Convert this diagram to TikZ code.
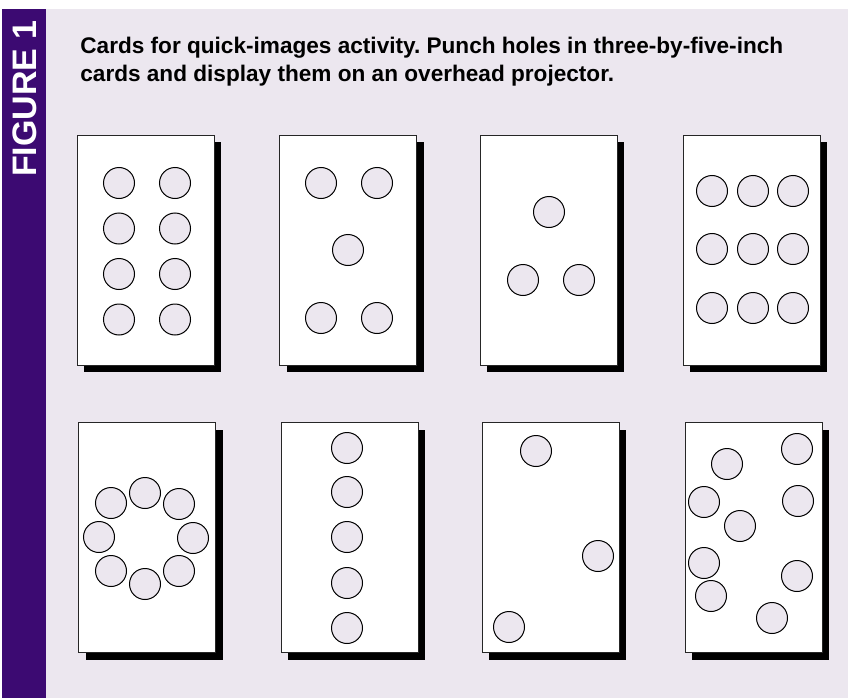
\documentclass[tikz,border=0pt]{standalone}
\usepackage{fontspec}
\setmainfont{Liberation Sans}
\usetikzlibrary{shadows,positioning}
\definecolor{figpurple}{HTML}{3C0A72}
\definecolor{figlilac}{HTML}{ECE7EF}
\frenchspacing
\tikzset{every picture/.style={line width=0.75pt}}
\tikzset{
  card/.style={draw=black!85, fill=white, line width=0.8pt, inner sep=0pt,
    minimum width=137pt, minimum height=230pt,
    drop shadow={shadow xshift=7pt, shadow yshift=-7pt, opacity=1, fill=black}},
  hole/.style={circle, draw=black, fill=figlilac, line width=1pt,
    minimum size=31pt, inner sep=0pt},
  capline/.style={anchor=base west, inner sep=0pt,
    font=\bfseries\fontsize{22.6}{28}\selectfont},
}

\begin{document}
\begin{tikzpicture}[x=1pt, y=-1pt]
    \useasboundingbox (0,0) rectangle (848,698);
    \fill[figlilac] (46,9) rectangle (848,698);
    \fill[figpurple] (2,9) rectangle (46,698);
    \node[rotate=90, text=white, inner sep=0pt,
          font=\bfseries\fontsize{34}{34}\selectfont] (figlabel) at (25,98.5) {FIGURE 1};
    \node[capline] (cap1) at (80,54) {Cards for quick-images activity. Punch holes in three-by-five-inch};
    \node[capline] (cap2) at (80,82) {cards and display them on an overhead projector.};

    % top row
    \node[card] (card1) at (145.5,250) {};
    \node[card] (card2) at (348,250) {};
    \node[card] (card3) at (548.5,250) {};
    \node[card] (card4) at (751.5,250) {};
    % bottom row
    \node[card] (card5) at (147,537.5) {};
    \node[card] (card6) at (349.5,537.5) {};
    \node[card] (card7) at (550.5,537.5) {};
    \node[card] (card8) at (753.5,537.5) {};

    % punched holes
    \foreach \hx/\hy [count=\i] in {119/183,175/183,119/228.5,175/228.5,119/274,175/274,119/319.5,175/319.5}
        \node[hole] (holeA\i) at (\hx,\hy) {};
    \foreach \hx/\hy [count=\i] in {321/183,377/183,348/250,321/318,377/318}
        \node[hole] (holeB\i) at (\hx,\hy) {};
    \foreach \hx/\hy [count=\i] in {549/212,523/280,579/280}
        \node[hole] (holeC\i) at (\hx,\hy) {};
    \foreach \hx/\hy [count=\i] in {712/191,753/191,793/191,712/249,753/249,793/249,712/308,753/308,793/308}
        \node[hole] (holeD\i) at (\hx,\hy) {};
    \foreach \hx/\hy [count=\i] in {145/493,111/503,179/504,99/537,193/538,111/571,145/584,179/571}
        \node[hole] (holeE\i) at (\hx,\hy) {};
    \foreach \hy [count=\i] in {448,492,537,583,628}
        \node[hole] (holeF\i) at (347,\hy) {};
    \foreach \hx/\hy [count=\i] in {536/451,598/556,509/627}
        \node[hole] (holeG\i) at (\hx,\hy) {};
    \foreach \hx/\hy [count=\i] in {797/449,727/464,704/502,798/501,740/526,704/563,797/576,711/596,772/618}
        \node[hole] (holeH\i) at (\hx,\hy) {};
\end{tikzpicture}
\end{document}
